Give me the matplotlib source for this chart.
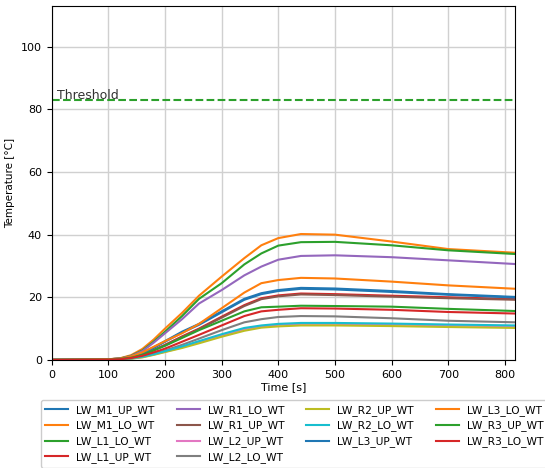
import matplotlib
matplotlib.use("Agg")
import matplotlib.pyplot as plt

# time samples [s]
t = [0, 100, 120, 140, 160, 180, 200, 230, 260, 300, 340, 370, 400, 440, 500, 600, 700, 820]

# temperatures [°C] per sensor
LW_M1_UP_WT = [0, 0.2, 0.4, 1.0, 2.2, 4.0, 6.0, 9.0, 11.5, 15.5, 19.5, 21.3, 22.3, 23.0, 22.8, 22.0, 21.0, 20.1]
LW_M1_LO_WT = [0, 0.2, 0.5, 1.5, 3.5, 6.5, 10.0, 15.0, 20.5, 26.6, 32.5, 36.6, 38.9, 40.2, 40.0, 37.8, 35.4, 34.2]
LW_L1_LO_WT = [0, 0.2, 0.4, 1.3, 3.0, 5.8, 9.0, 14.0, 19.5, 24.5, 30.5, 34.0, 36.5, 37.6, 37.7, 36.6, 35.0, 33.8]
LW_L1_UP_WT = [0, 0.2, 0.3, 0.8, 1.8, 3.2, 4.8, 7.5, 10.0, 13.8, 17.5, 19.7, 20.6, 21.2, 21.0, 20.5, 20.0, 19.4]
LW_R1_LO_WT = [0, 0.2, 0.4, 1.2, 2.8, 5.5, 8.5, 13.0, 18.0, 22.3, 27.0, 29.8, 32.0, 33.2, 33.4, 32.8, 31.8, 30.6]
LW_R1_UP_WT = [0, 0.2, 0.3, 0.8, 1.7, 3.1, 4.7, 7.3, 9.8, 13.5, 17.2, 19.4, 20.3, 20.9, 20.7, 20.2, 19.7, 19.2]
LW_L2_UP_WT = [0, 0.1, 0.2, 0.4, 0.9, 1.7, 2.6, 4.0, 5.6, 7.8, 9.8, 10.7, 11.2, 11.5, 11.5, 11.3, 11.0, 10.7]
LW_L2_LO_WT = [0, 0.1, 0.2, 0.5, 1.1, 2.0, 3.0, 4.8, 6.8, 9.5, 12.0, 13.0, 13.7, 14.0, 13.9, 13.3, 12.5, 12.0]
LW_R2_UP_WT = [0, 0.1, 0.2, 0.4, 0.8, 1.6, 2.5, 3.8, 5.3, 7.4, 9.3, 10.3, 10.7, 11.0, 11.0, 10.8, 10.5, 10.2]
LW_R2_LO_WT = [0, 0.1, 0.2, 0.5, 1.0, 1.8, 2.8, 4.3, 6.0, 8.2, 10.2, 11.0, 11.5, 11.8, 11.8, 11.6, 11.3, 11.0]
LW_L3_UP_WT = [0, 0.2, 0.4, 1.0, 2.1, 3.8, 5.8, 8.7, 11.2, 15.2, 19.2, 21.0, 22.0, 22.7, 22.5, 21.7, 20.8, 19.9]
LW_L3_LO_WT = [0, 0.2, 0.4, 1.1, 2.4, 4.2, 6.0, 8.5, 11.5, 16.5, 21.5, 24.5, 25.5, 26.2, 26.0, 25.0, 23.8, 22.7]
LW_R3_UP_WT = [0, 0.1, 0.3, 0.7, 1.6, 3.0, 4.5, 7.0, 9.5, 12.5, 15.5, 16.8, 17.0, 17.3, 17.2, 17.0, 16.3, 15.6]
LW_R3_LO_WT = [0, 0.1, 0.2, 0.6, 1.3, 2.4, 3.6, 5.8, 8.0, 11.0, 14.0, 15.5, 16.0, 16.5, 16.4, 16.0, 15.3, 14.8]

names = ["LW_M1_UP_WT", "LW_M1_LO_WT", "LW_L1_LO_WT", "LW_L1_UP_WT",
         "LW_R1_LO_WT", "LW_R1_UP_WT", "LW_L2_UP_WT", "LW_L2_LO_WT",
         "LW_R2_UP_WT", "LW_R2_LO_WT", "LW_L3_UP_WT", "LW_L3_LO_WT",
         "LW_R3_UP_WT", "LW_R3_LO_WT"]
series = [LW_M1_UP_WT, LW_M1_LO_WT, LW_L1_LO_WT, LW_L1_UP_WT,
          LW_R1_LO_WT, LW_R1_UP_WT, LW_L2_UP_WT, LW_L2_LO_WT,
          LW_R2_UP_WT, LW_R2_LO_WT, LW_L3_UP_WT, LW_L3_LO_WT,
          LW_R3_UP_WT, LW_R3_LO_WT]

threshold = 83

fig = plt.figure(figsize=(5.45, 4.68), dpi=100)
ax = fig.add_axes([0.095, 0.231, 0.85, 0.756])

for name, vals in zip(names, series):
    ax.plot(t, vals, lw=1.5, label=name)

ax.axhline(threshold, color="tab:green", ls="--", lw=1.5)
ax.text(10, threshold - 0.5, "Threshold", fontsize=9, va="bottom", ha="left", color="#333333")

ax.set_xlim(0, 818)
ax.set_ylim(0, 113)
ax.set_xticks(range(0, 801, 100))
ax.set_yticks(range(0, 101, 20))
ax.tick_params(labelsize=8)
ax.set_xlabel("Time [s]", fontsize=8, labelpad=2)
ax.set_ylabel("Temperature [°C]", fontsize=7.5)
ax.grid(True, color="#d0d0d0", lw=1)

# legend below the axes, runs off the right edge like the original
fig.legend(loc="upper left", bbox_to_anchor=(0.075, 0.145), borderaxespad=0,
           ncol=4, fontsize=7.7, handlelength=2.15, handletextpad=0.75,
           columnspacing=2.05, labelspacing=0.46, borderpad=0.42, framealpha=1)

fig.savefig("out.png", dpi=100)
